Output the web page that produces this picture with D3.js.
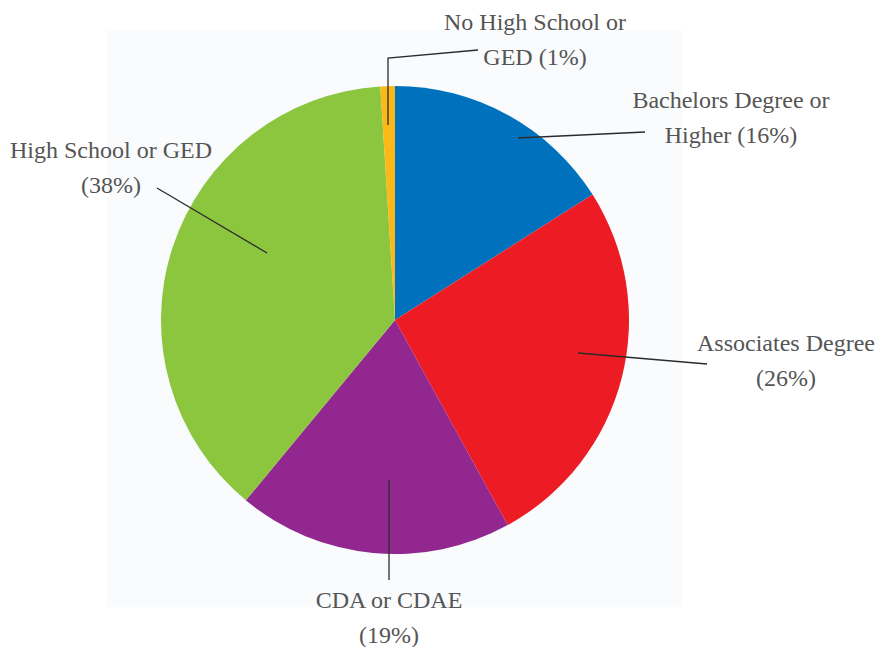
<!DOCTYPE html>
<html>
<head>
<meta charset="utf-8">
<script src="https://cdn.jsdelivr.net/npm/d3@7"></script>
<style>
  html, body { margin: 0; padding: 0; background: #ffffff; }
  svg { display: block; }
  .label { font-family: "Liberation Serif", "DejaVu Serif", serif; font-size: 24px; fill: #555555; }
</style>
</head>
<body>
<svg id="chart" width="886" height="647"></svg>
<script>
// Education level of staff, share of total (percent), clockwise from 12 o'clock
const categories = [
  "Bachelors Degree or Higher",
  "Associates Degree",
  "CDA or CDAE",
  "High School or GED",
  "No High School or GED"
];
const values = [16, 26, 19, 38, 1];
const labelLines = [
  ["Bachelors Degree or", "Higher (16%)"],
  ["Associates Degree", "(26%)"],
  ["CDA or CDAE", "(19%)"],
  ["High School or GED", "(38%)"],
  ["No High School or", "GED (1%)"]
];
const colors = ["#0071bc", "#ed1c24", "#92278f", "#8cc63f", "#fbb817"];

// Placement of callout text (centre of first line) and leader lines
const labelLayout = [
  { x: 731, y: 108, leader: [[518, 138], [645, 132]] },
  { x: 786, y: 351, leader: [[578, 353], [707, 364]] },
  { x: 389, y: 608, leader: [[389, 480], [389, 580]] },
  { x: 111, y: 158, leader: [[267, 253], [157, 188]] },
  { x: 535, y: 30,  leader: [[388, 125], [388, 58], [478, 50]] }
];

const svg = d3.select("#chart");
const cx = 395, cy = 320, radius = 234;

// Pale panel behind the pie
svg.append("rect")
  .attr("x", 107).attr("y", 30)
  .attr("width", 576).attr("height", 577)
  .attr("fill", "#f9fbfd");

const data = categories.map((c, i) => ({ category: c, value: values[i], color: colors[i] }));

const pie = d3.pie().value(d => d.value).sort(null);
const arc = d3.arc().innerRadius(0).outerRadius(radius);

const g = svg.append("g").attr("transform", `translate(${cx},${cy})`);
g.selectAll("path")
  .data(pie(data))
  .join("path")
  .attr("d", arc)
  .attr("fill", d => d.data.color);

// Leader lines
const line = d3.line();
svg.append("g").selectAll("path")
  .data(labelLayout)
  .join("path")
  .attr("d", d => line(d.leader))
  .attr("fill", "none")
  .attr("stroke", "#2b2b2b")
  .attr("stroke-width", 1.3);

// Two-line callouts
const labels = svg.append("g").selectAll("text")
  .data(labelLayout)
  .join("text")
  .attr("class", "label")
  .attr("text-anchor", "middle")
  .attr("x", d => d.x)
  .attr("y", d => d.y);

labels.each(function(d, i) {
  const t = d3.select(this);
  labelLines[i].forEach((ln, j) => {
    t.append("tspan")
      .attr("x", d.x)
      .attr("dy", j === 0 ? 0 : 35)
      .text(ln);
  });
});
</script>
</body>
</html>
